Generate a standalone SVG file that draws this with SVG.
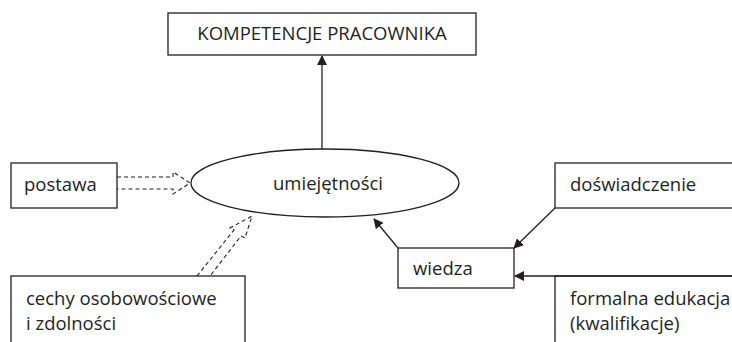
<svg xmlns="http://www.w3.org/2000/svg" width="732" height="342" viewBox="0 0 732 342">
<style>
.box{fill:#fff;stroke:#231f20;stroke-width:1.3}
.t{font-family:"Open Sans","Liberation Sans",sans-serif;font-size:18.5px;fill:#231f20}
.c{fill:none;stroke:#231f20;stroke-width:1.3}
.d{fill:none;stroke:#231f20;stroke-width:1.1;stroke-dasharray:4 3}
</style>
<defs>
<marker id="ah" markerWidth="10" markerHeight="10" refX="9" refY="5" orient="auto" markerUnits="userSpaceOnUse">
<path d="M0,0 L10,5 L0,10 Z" fill="#231f20"/>
</marker>
</defs>
<g id="kompetencje">
<rect class="box" x="168" y="13" width="308" height="42"/>
<text class="t" x="322" y="40" text-anchor="middle">KOMPETENCJE PRACOWNIKA</text>
</g>
<g id="umiejetnosci">
<ellipse class="box" cx="325" cy="183" rx="134" ry="34"/>
<text class="t" x="328" y="190" text-anchor="middle">umiejętności</text>
</g>
<g id="postawa">
<rect class="box" x="11" y="163" width="106" height="45"/>
<text class="t" x="24" y="191">postawa</text>
</g>
<g id="cechy">
<rect class="box" x="11" y="276" width="234" height="70"/>
<text class="t" x="26" y="305">cechy osobowościowe</text>
<text class="t" x="26" y="330">i zdolności</text>
</g>
<g id="doswiadczenie">
<rect class="box" x="555" y="163" width="180" height="45"/>
<text class="t" x="570" y="191">doświadczenie</text>
</g>
<g id="wiedza">
<rect class="box" x="398" y="248" width="116" height="40"/>
<text class="t" x="413" y="275">wiedza</text>
</g>
<g id="formalna">
<rect class="box" x="555" y="276" width="180" height="70"/>
<text class="t" x="570" y="305">formalna edukacja</text>
<text class="t" x="570" y="330">(kwalifikacje)</text>
</g>
<g id="connectors">
<line class="c" x1="322" y1="149" x2="322" y2="56" marker-end="url(#ah)"/>
<line class="c" x1="398" y1="248" x2="374" y2="219" marker-end="url(#ah)"/>
<line class="c" x1="555" y1="208" x2="514" y2="248" marker-end="url(#ah)"/>
<line class="c" x1="732" y1="276" x2="515" y2="276" marker-end="url(#ah)"/>
<path class="d" d="M117,177 H173 V172 L190,183 L173,194 V189 H117"/>
<path class="d" d="M197,276 L234,230 L230,228 L252,216 L245,238 L241,236 L210,276"/>
</g>
</svg>
